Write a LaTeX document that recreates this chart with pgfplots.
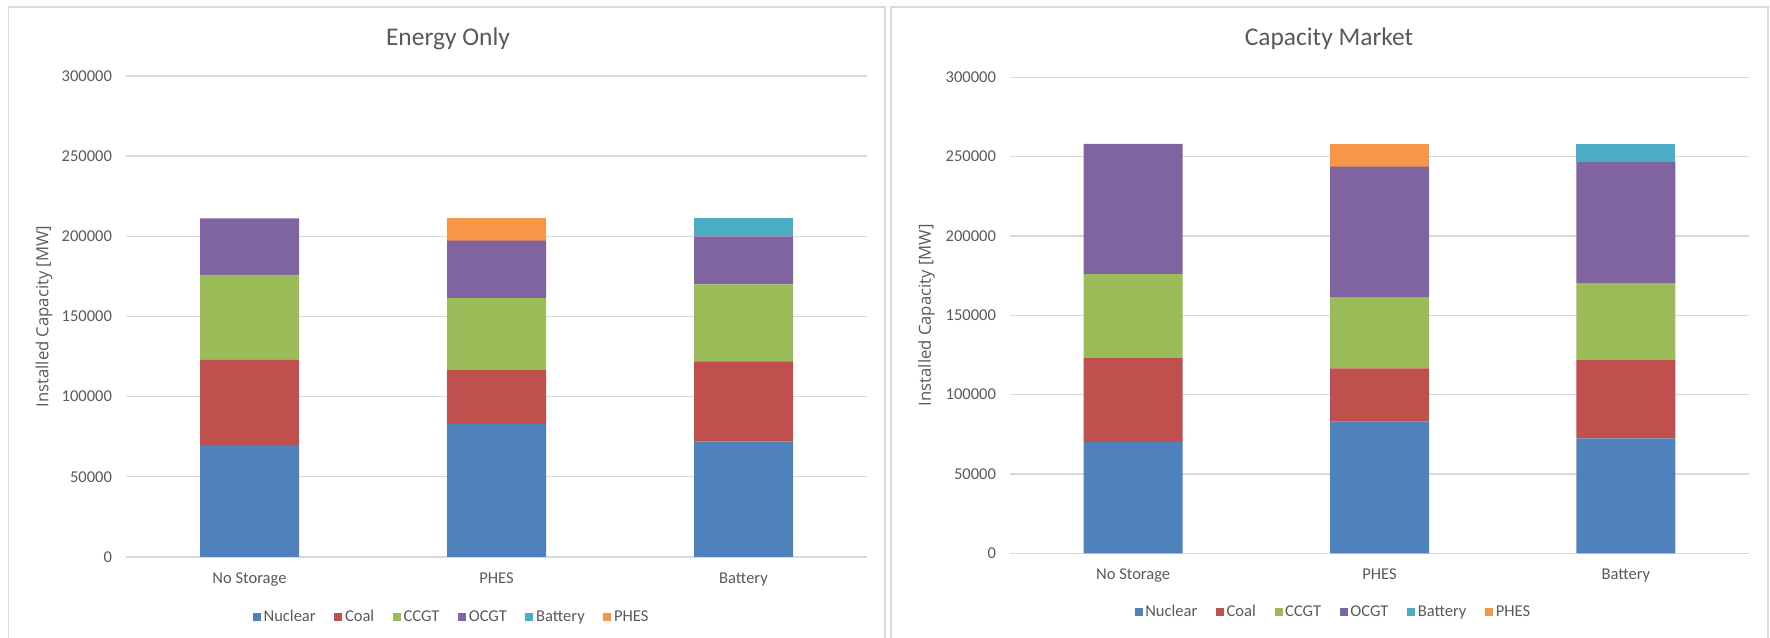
\documentclass[border=0pt]{standalone}
\usepackage{pgfplots}
\pgfplotsset{compat=1.18}
\usepackage{fontspec}
\setmainfont{Carlito}
\newfontfamily\labfont{Open Sans}
\definecolor{cNuc}{HTML}{4F81BD}
\definecolor{cCoal}{HTML}{C0504D}
\definecolor{cCCGT}{HTML}{9BBB59}
\definecolor{cOCGT}{HTML}{8064A2}
\definecolor{cBat}{HTML}{4BACC6}
\definecolor{cPHES}{HTML}{F79646}
\definecolor{gridc}{HTML}{D9D9D9}
\definecolor{textc}{HTML}{595959}
\newcommand{\tickfont}{\fontsize{12.4}{14}\selectfont}
\pgfplotsset{
  capstyle/.style={
    scale only axis, anchor=south west,
    ybar stacked, bar width=74.25pt,
    xmin=-0.5, xmax=2.5, ymin=0, ymax=300000,
    enlargelimits=false,
    xtick={0,1,2}, xticklabels={No Storage,PHES,Battery},
    ytick={0,50000,100000,150000,200000,250000,300000},
    scaled y ticks=false,
    /pgf/number format/fixed,
    /pgf/number format/1000 sep={},
    /pgf/number format/assume math mode=true,
    yticklabel style={font=\tickfont, text=textc, xshift=-7pt},
    xticklabel style={font=\tickfont, text=textc, anchor=base, yshift=-19.9pt},
    axis x line*=bottom, axis y line*=left,
    x axis line style={draw=gridc, line width=1pt},
    y axis line style={draw=none},
    major tick length=0pt,
    ymajorgrids, grid style={draw=gridc, line width=1pt},
    legend columns=6,
    legend style={draw=none, fill=none, font=\tickfont, text=textc,
      /tikz/every even column/.append style={column sep=12pt}},
    legend image code/.code={\path[#1] (0pt,-3pt) rectangle (6pt,3pt);},
  }
}
\begin{document}
\begin{tikzpicture}[x=0.75pt,y=0.75pt]
\useasboundingbox (0,0) rectangle (1770,638);
\coordinate (LA) at (126,81);
\coordinate (RA) at (1010,84.7);
\draw[gridc, line width=1.1pt] (8.5,0) -- (8.5,631) -- (885,631) -- (885,0);
\draw[gridc, line width=1.1pt] (891,0) -- (891,631) -- (1768,631) -- (1768,0);

\node[anchor=base, text=textc, font=\fontsize{19.1}{22}\selectfont] at (448,592.4) {Energy Only};
\node[anchor=base, text=textc, font=\fontsize{19.1}{22}\selectfont] at (1329,592.4) {Capacity Market};
\node[rotate=90, text=textc, font=\labfont\fontsize{12.5}{15}\selectfont] at (44,321.5) {Installed Capacity [MW]};
\node[rotate=90, text=textc, font=\labfont\fontsize{12.5}{15}\selectfont] at (926.6,322.7) {Installed Capacity [MW]};

\begin{axis}[capstyle, at={(LA)}, width=555.75pt, height=360.75pt,
  legend style={at={(axis description cs:0.44,-0.1247)}, anchor=center}]
\addplot[fill=cNuc, draw=none] coordinates {(0,70000) (1,83000) (2,72000)};
\addplot[fill=cCoal, draw=none] coordinates {(0,53000) (1,33500) (2,50000)};
\addplot[fill=cCCGT, draw=none] coordinates {(0,53000) (1,45000) (2,48000)};
\addplot[fill=cOCGT, draw=none] coordinates {(0,35200) (1,35800) (2,30000)};
\addplot[fill=cBat, draw=none] coordinates {(0,0) (1,0) (2,11200)};
\addplot[fill=cPHES, draw=none] coordinates {(0,0) (1,13900) (2,0)};
\legend{Nuclear,Coal,CCGT,OCGT,Battery,PHES}
\end{axis}

\begin{axis}[capstyle, at={(RA)}, width=554.25pt, height=357pt,
  legend style={at={(axis description cs:0.438,-0.1233)}, anchor=center}]
\addplot[fill=cNuc, draw=none] coordinates {(0,70000) (1,83000) (2,72500)};
\addplot[fill=cCoal, draw=none] coordinates {(0,53000) (1,33500) (2,49500)};
\addplot[fill=cCCGT, draw=none] coordinates {(0,53000) (1,45000) (2,48000)};
\addplot[fill=cOCGT, draw=none] coordinates {(0,82000) (1,82200) (2,76500)};
\addplot[fill=cBat, draw=none] coordinates {(0,0) (1,0) (2,11500)};
\addplot[fill=cPHES, draw=none] coordinates {(0,0) (1,14300) (2,0)};
\legend{Nuclear,Coal,CCGT,OCGT,Battery,PHES}
\end{axis}
\end{tikzpicture}
\end{document}
